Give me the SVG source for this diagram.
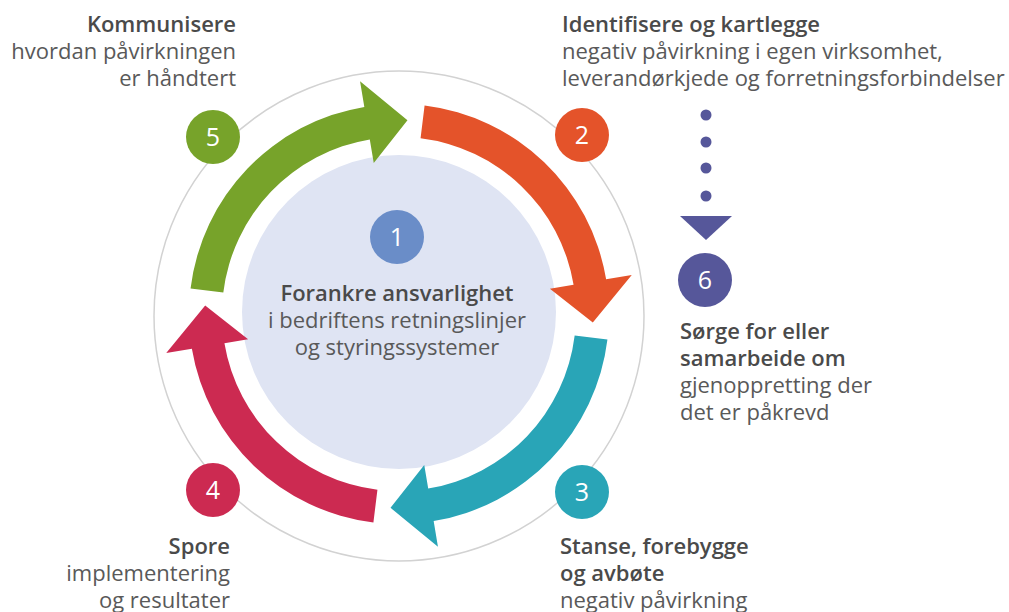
<svg xmlns="http://www.w3.org/2000/svg" xmlns:xlink="http://www.w3.org/1999/xlink" width="1009" height="612" viewBox="0 0 1009 612">
  <style>
    text { font-family: "Open Sans", "Noto Sans", "DejaVu Sans", sans-serif; font-size: 22px; fill: #595959; }
    .b { font-weight: 600; fill: #4a4a4a; }
    .num { font-size: 25px; fill: #ffffff; text-anchor: middle; }
    .r { text-anchor: end; }
    .c { text-anchor: middle; }
  </style>
  <defs>
    <path id="arc-arrow" d="M 424.59 105.56 A 210 210 0 0 1 606.12 279.34 L 631.76 275.05 L 592.82 322.46 L 549.90 288.75 L 573.57 284.79 A 177 177 0 0 0 420.57 138.32 Z"/>
  </defs>
  <rect width="1009" height="612" fill="#ffffff"/>
  <circle id="ring" cx="399" cy="316" r="245" fill="none" stroke="#d2d2d2" stroke-width="1.5"/>
  <circle id="core" cx="399" cy="312" r="157" fill="#dfe4f3"/>

  <g id="connectors">
    <use xlink:href="#arc-arrow" href="#arc-arrow" fill="#e4532a"/>
    <use xlink:href="#arc-arrow" href="#arc-arrow" fill="#29a5b7" transform="rotate(90 399 314)"/>
    <use xlink:href="#arc-arrow" href="#arc-arrow" fill="#cc2a51" transform="rotate(180 399 314)"/>
    <use xlink:href="#arc-arrow" href="#arc-arrow" fill="#77a32a" transform="rotate(270 399 314)"/>
    <g fill="#56579a">
      <circle cx="706" cy="115" r="5.5"/>
      <circle cx="706" cy="142" r="5.5"/>
      <circle cx="706" cy="168" r="5.5"/>
      <circle cx="706" cy="196" r="5.5"/>
      <polygon points="680,216 732,216 706,240"/>
    </g>
  </g>

  <g id="step1">
    <circle cx="397" cy="237" r="27" fill="#6a8dc8"/>
    <text class="num" x="397" y="246">1</text>
    <text class="b c" x="397" y="301">Forankre ansvarlighet</text>
    <text class="c" x="397" y="328">i bedriftens retningslinjer</text>
    <text class="c" x="397" y="355">og styringssystemer</text>
  </g>

  <g id="step2">
    <circle cx="582" cy="135" r="27" fill="#e4532a"/>
    <text class="num" x="582" y="144">2</text>
    <text class="b" x="562" y="32">Identifisere og kartlegge</text>
    <text x="562" y="59">negativ påvirkning i egen virksomhet,</text>
    <text x="562" y="86">leverandørkjede og forretningsforbindelser</text>
  </g>

  <g id="step3">
    <circle cx="582" cy="492" r="27" fill="#29a5b7"/>
    <text class="num" x="582" y="501">3</text>
    <text class="b" x="560" y="554">Stanse, forebygge</text>
    <text class="b" x="560" y="581">og avbøte</text>
    <text x="560" y="608">negativ påvirkning</text>
  </g>

  <g id="step4">
    <circle cx="213" cy="490" r="27" fill="#cc2a51"/>
    <text class="num" x="213" y="499">4</text>
    <text class="b r" x="230" y="554">Spore</text>
    <text class="r" x="230" y="581">implementering</text>
    <text class="r" x="230" y="608">og resultater</text>
  </g>

  <g id="step5">
    <circle cx="213" cy="137" r="27" fill="#77a32a"/>
    <text class="num" x="213" y="146">5</text>
    <text class="b r" x="236" y="32">Kommunisere</text>
    <text class="r" x="236" y="59">hvordan påvirkningen</text>
    <text class="r" x="236" y="86">er håndtert</text>
  </g>

  <g id="step6">
    <circle cx="705" cy="280" r="27" fill="#56579a"/>
    <text class="num" x="705" y="289">6</text>
    <text class="b" x="680" y="339">Sørge for eller</text>
    <text class="b" x="680" y="366">samarbeide om</text>
    <text x="680" y="393">gjenoppretting der</text>
    <text x="680" y="420">det er påkrevd</text>
  </g>
</svg>
